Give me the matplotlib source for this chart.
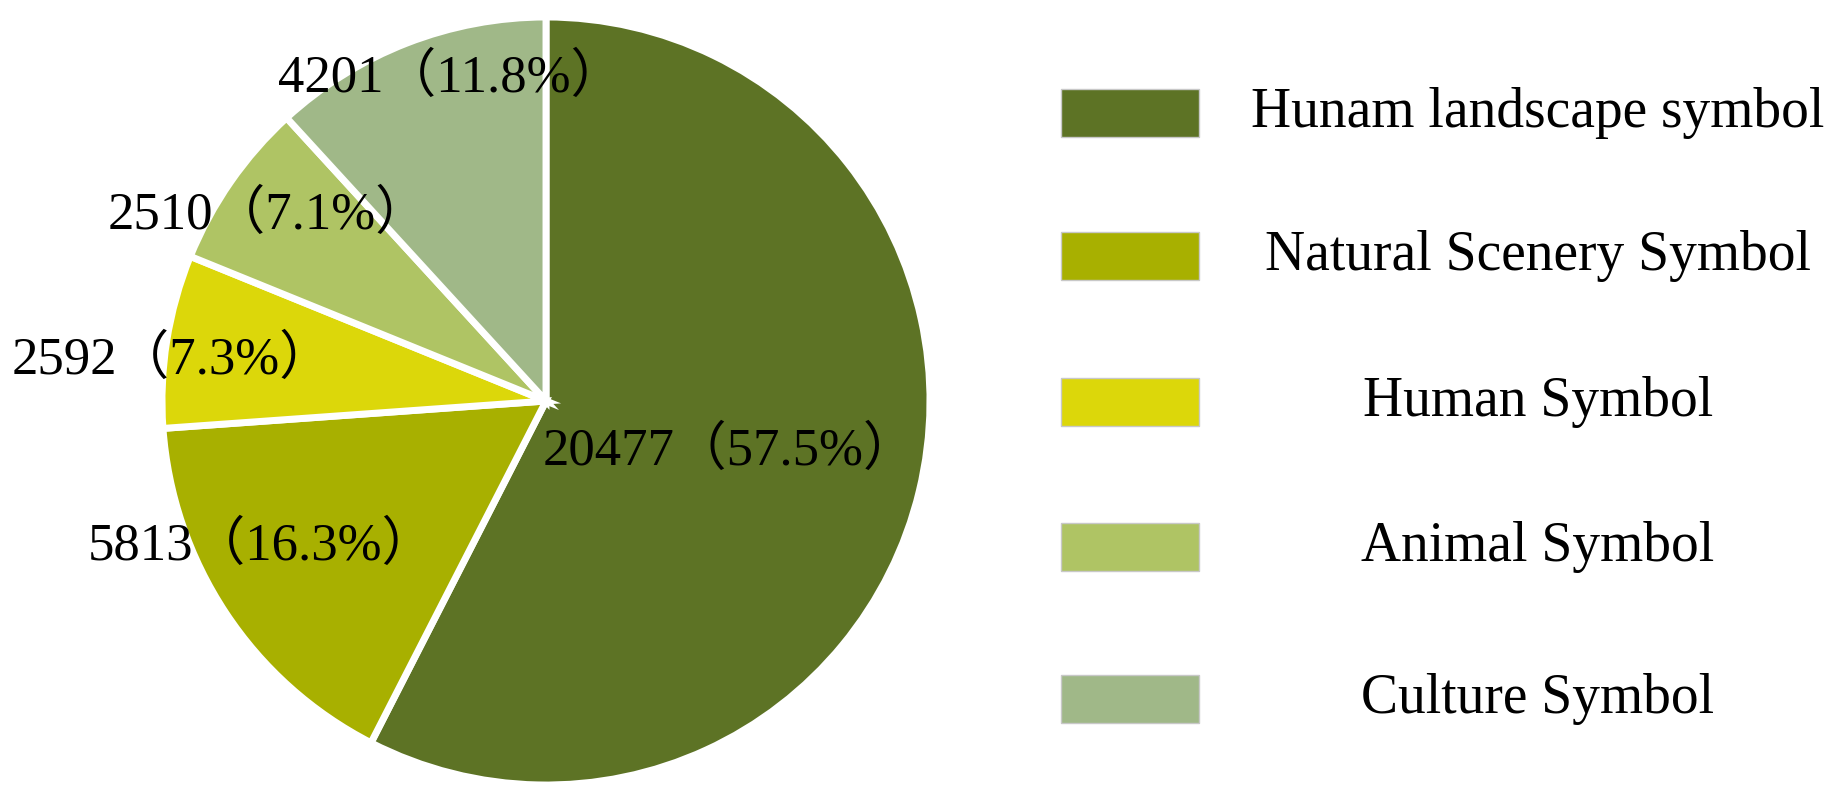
import matplotlib
matplotlib.use("Agg")
import matplotlib.pyplot as plt
from matplotlib.patches import Rectangle

categories = ["Hunam landscape symbol", "Natural Scenery Symbol", "Human Symbol",
              "Animal Symbol", "Culture Symbol"]
counts = [20477, 5813, 2592, 2510, 4201]
colors = ["#5D7325", "#A8B000", "#DCD70A", "#AFC464", "#A0B888"]

# label centres in pie data units (radius = 1)
label_xy = [(0.477, -0.129), (-0.740, -0.376), (-0.975, 0.107),
            (-0.724, 0.486), (-0.249, 0.841)]

fonts = ["Liberation Serif", "Noto Sans CJK SC"]

fig = plt.figure(figsize=(18.39, 8.01), dpi=100)

# pie
ax = fig.add_axes([162 / 1839, 16 / 801, 768 / 1839, 768 / 801])
ax.pie(counts, colors=colors, startangle=90, counterclock=False,
       wedgeprops=dict(edgecolor="white", linewidth=5))
ax.set_xlim(-1, 1)
ax.set_ylim(-1, 1)
ax.set_aspect("equal")
ax.axis("off")

total = sum(counts)
for (x, y), n in zip(label_xy, counts):
    ax.text(x, y, "{}（{:.1f}%）".format(n, n / total * 100), ha="center", va="center",
            fontsize=38, family=fonts, clip_on=False)

# legend drawn by hand, text centred like the original
lax = fig.add_axes([0, 0, 1, 1])
lax.set_xlim(0, 1839)
lax.set_ylim(801, 0)
lax.axis("off")
row_y = [113, 256, 402, 547, 699]
for yc, c, name in zip(row_y, colors, categories):
    lax.add_patch(Rectangle((1061, yc - 24), 138, 48, facecolor=c, edgecolor="#C8C8C8", lw=1))
    lax.text(1538, yc, name, ha="center", va="center", fontsize=40, family=fonts)

fig.savefig("out.png", dpi=100)
